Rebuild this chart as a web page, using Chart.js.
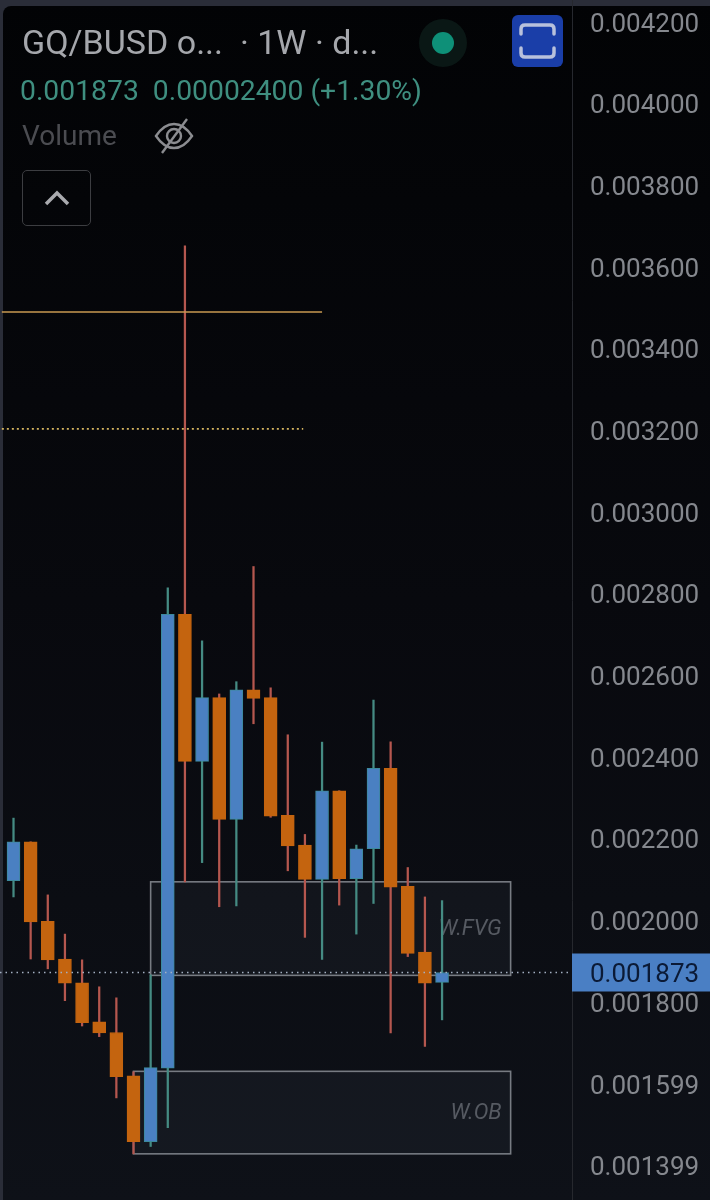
<!DOCTYPE html>
<html>
<head>
<meta charset="utf-8">
<title>GQ/BUSD 1W</title>
<script src="https://cdn.jsdelivr.net/npm/chart.js@4/dist/chart.umd.min.js"></script>
<style>
    html, body { margin: 0; padding: 0; background: #2a2d38; }
    #wrap { position: relative; width: 710px; height: 1200px; overflow: hidden; font-family: Roboto, sans-serif; }
    canvas { position: absolute; left: 0; top: 0; }
    .txt { position: absolute; white-space: pre; line-height: 1; }
    #title { left: 22px; top: 25px; font-size: 34px; color: #a5a7ac; }
    #quote { left: 20px; top: 77px; font-size: 28.3px; color: #3f8f80; }
    #vol { left: 22px; top: 122px; font-size: 28px; color: #4b4c51; }
    #dot-halo { position: absolute; left: 419px; top: 19px; width: 48px; height: 48px; border-radius: 50%; background: #0a1715; }
    #dot { position: absolute; left: 432px; top: 32px; width: 22px; height: 22px; border-radius: 50%; background: #0e9078; }
    #shot { position: absolute; left: 512px; top: 15px; width: 51px; height: 52px; border-radius: 6px; background: #1a3ea8; }
    #eye { position: absolute; left: 154px; top: 117px; }
    #collapse { position: absolute; left: 22px; top: 170px; width: 67px; height: 54px; border: 1px solid #3c3d41; border-radius: 5px; box-sizing: content-box; }
</style>
</head>
<body>
<div id="wrap">
    <canvas id="chart" width="710" height="1200"></canvas>
    <div id="title" class="txt">GQ/BUSD o...  · 1W · d...</div>
    <div id="quote" class="txt">0.001873  0.00002400 (+1.30%)</div>
    <div id="vol" class="txt">Volume</div>
    <div id="dot-halo"></div>
    <div id="dot"></div>
    <div id="shot">
        <svg width="51" height="52" fill="none" stroke="#b8c1dc" stroke-width="3.5" stroke-linecap="round">
            <path d="M9 19V14q0-4 4-4H38q4 0 4 4V19"/>
            <path d="M9 33V38q0 4 4 4H38q4 0 4-4V33"/>
        </svg>
    </div>
    <svg id="eye" width="40" height="38" fill="none" stroke="#8b8c90" stroke-width="2.4">
        <path d="M2 19Q10 7 20 7T38 19Q30 31 20 31T2 19Z"/>
        <circle cx="20" cy="19" r="7"/>
        <path d="M33 2L8 36"/>
    </svg>
    <div id="collapse">
        <svg width="67" height="54" fill="none" stroke="#a9aaae" stroke-width="3.5">
            <path d="M23 33L34 22L45 33"/>
        </svg>
    </div>
</div>

<script>
const opens = [0.002098, 0.002193, 0.001998, 0.001906, 0.001848, 0.001752, 0.001726, 0.001620, 0.001459, 0.001639, 0.002750, 0.002390, 0.002546, 0.002248, 0.002565, 0.002546, 0.002258, 0.002185, 0.002101, 0.002318, 0.002103, 0.002176, 0.002373, 0.002084, 0.001923, 0.001849];
const highs = [0.002251, 0.002193, 0.002063, 0.001967, 0.001904, 0.001838, 0.001811, 0.001630, 0.001867, 0.002815, 0.003652, 0.002685, 0.002555, 0.002585, 0.002867, 0.002570, 0.002455, 0.002211, 0.002437, 0.002318, 0.002185, 0.002540, 0.002438, 0.002130, 0.002058, 0.002049];
const lows = [0.002058, 0.001906, 0.001882, 0.001804, 0.001742, 0.001716, 0.001566, 0.001429, 0.001447, 0.001493, 0.002095, 0.002142, 0.002034, 0.002036, 0.002482, 0.002253, 0.002122, 0.001959, 0.001905, 0.002038, 0.001967, 0.002042, 0.001725, 0.001912, 0.001692, 0.001757];
const closes = [0.002193, 0.001997, 0.001904, 0.001847, 0.001750, 0.001725, 0.001618, 0.001459, 0.001640, 0.002750, 0.002390, 0.002546, 0.002248, 0.002565, 0.002544, 0.002256, 0.002183, 0.002101, 0.002318, 0.002103, 0.002176, 0.002373, 0.002082, 0.001920, 0.001847, 0.001873];

const tickValues = [0.0042, 0.0040, 0.0038, 0.0036, 0.0034, 0.0032, 0.0030, 0.0028, 0.0026, 0.0024, 0.0022, 0.0020, 0.0018, 0.0016, 0.0014];
const tickLabels = ['0.004200', '0.004000', '0.003800', '0.003600', '0.003400', '0.003200', '0.003000', '0.002800', '0.002600', '0.002400', '0.002200', '0.002000', '0.001800', '0.001599', '0.001399'];

const lastPrice = 0.001873;
const lastLabel = '0.001873';

// zones: [from bar, to bar, top price, bottom price]
const fvgZone = [8, 29, 0.002095, 0.001866];
const obZone = [7, 29, 0.001631, 0.001429];
const fvgLabel = 'W.FVG';
const obLabel = 'W.OB';

const solidLevel = [-0.68, 18, 0.003490];
const dottedLevel = [-0.68, 16.9, 0.003204];

const xMin = -0.788;
const xMax = 32.58;
const yMin = 0.001316;
const yMax = 0.004254;

const isUp = i => closes[i] >= opens[i];

const paintPlugin = {
    id: 'paint',
    beforeDraw(chart) {
        const c = chart.ctx;
        const grad = c.createLinearGradient(0, 0, 0, 1200);
        grad.addColorStop(0, '#020305');
        grad.addColorStop(0.5, '#08090e');
        grad.addColorStop(1, '#0e1118');
        c.save();
        c.fillStyle = '#2a2d38';
        c.fillRect(0, 0, 710, 1200);
        c.fillStyle = grad;
        c.beginPath();
        c.roundRect(3, 6, 720, 1210, 8);
        c.fill();
        c.restore();
    },
    beforeDatasetsDraw(chart) {
        const c = chart.ctx;
        const x = chart.scales.x;
        const y = chart.scales.y;
        [[fvgZone, fvgLabel], [obZone, obLabel]].forEach(([z, label]) => {
            const left = x.getPixelForValue(z[0]);
            const right = x.getPixelForValue(z[1]);
            const top = y.getPixelForValue(z[2]);
            const bottom = y.getPixelForValue(z[3]);
            c.save();
            c.fillStyle = 'rgba(190,200,225,0.045)';
            c.fillRect(left, top, right - left, bottom - top);
            c.strokeStyle = '#777b82';
            c.lineWidth = 1.6;
            c.strokeRect(left, top, right - left, bottom - top);
            c.fillStyle = '#565a62';
            c.font = 'italic 22px Roboto';
            c.textAlign = 'right';
            c.textBaseline = 'middle';
            c.fillText(label, right - 9, (top + bottom) / 2 + 0.5);
            c.restore();
        });
    },
    afterDraw(chart) {
        const c = chart.ctx;
        const py = chart.scales.y.getPixelForValue(lastPrice);
        c.save();
        c.fillStyle = '#4a7fc4';
        c.fillRect(572, py - 19, 142, 38);
        c.fillStyle = '#0b1a36';
        c.font = '26px Roboto';
        c.textBaseline = 'middle';
        c.fillText(lastLabel, 590, py + 3);
        c.restore();
    }
};

// the scales reserve room for half a label by default, the chart area has to fill the canvas
function noPadding(scale) {
    scale.paddingTop = 0;
    scale.paddingBottom = 0;
    scale.paddingLeft = 0;
    scale.paddingRight = 0;
}

new Chart(document.getElementById('chart'), {
    type: 'bar',
    data: {
        datasets: [
            {
                label: 'wicks',
                data: opens.map((o, i) => ({ x: i, y: [lows[i], highs[i]] })),
                barThickness: 1.6,
                grouped: false,
                backgroundColor: opens.map((o, i) => isUp(i) ? '#458b83' : '#b5574f'),
                order: 3
            },
            {
                label: 'bodies',
                data: opens.map((o, i) => ({ x: i, y: [o, closes[i]] })),
                barThickness: 13,
                grouped: false,
                backgroundColor: opens.map((o, i) => isUp(i) ? '#4a80c2' : '#c4640f'),
                borderColor: opens.map((o, i) => isUp(i) ? '#3c8a9c' : '#c4640f'),
                borderWidth: 1,
                borderSkipped: false,
                order: 2
            },
            {
                type: 'line',
                label: 'level',
                data: [{ x: solidLevel[0], y: solidLevel[2] }, { x: solidLevel[1], y: solidLevel[2] }],
                borderColor: '#c99a52',
                borderWidth: 1.6,
                pointRadius: 0,
                order: 1
            },
            {
                type: 'line',
                label: 'level dotted',
                data: [{ x: dottedLevel[0], y: dottedLevel[2] }, { x: dottedLevel[1], y: dottedLevel[2] }],
                borderColor: '#d6b560',
                borderWidth: 1.6,
                borderDash: [2, 3],
                pointRadius: 0,
                order: 1
            },
            {
                type: 'line',
                label: 'last price',
                data: [{ x: xMin, y: lastPrice }, { x: xMax, y: lastPrice }],
                borderColor: '#a3b0c2',
                borderWidth: 1.4,
                borderDash: [1.5, 4],
                pointRadius: 0,
                order: 1
            }
        ]
    },
    plugins: [paintPlugin],
    options: {
        responsive: false,
        animation: false,
        events: [],
        layout: { padding: 0 },
        plugins: { legend: { display: false }, tooltip: { enabled: false } },
        scales: {
            x: {
                type: 'linear',
                offset: false,
                min: xMin,
                max: xMax,
                display: false,
                afterFit: noPadding,
                grid: { display: false }
            },
            y: {
                type: 'linear',
                position: 'right',
                min: yMin,
                max: yMax,
                afterFit: scale => { scale.width = 138; noPadding(scale); },
                afterBuildTicks: scale => { scale.ticks = tickValues.map(v => ({ value: v })); },
                grid: { display: false, drawTicks: false },
                border: { display: true, color: '#26282e', width: 1 },
                ticks: {
                    autoSkip: false,
                    padding: 18,
                    color: '#85888e',
                    // empty first line pushes the digits 3px down, to where the app draws them
                    font: { family: 'Roboto', size: 26, lineHeight: '6px' },
                    callback: (v, i) => ['', tickLabels[i]]
                }
            }
        }
    }
});
</script>
</body>
</html>
